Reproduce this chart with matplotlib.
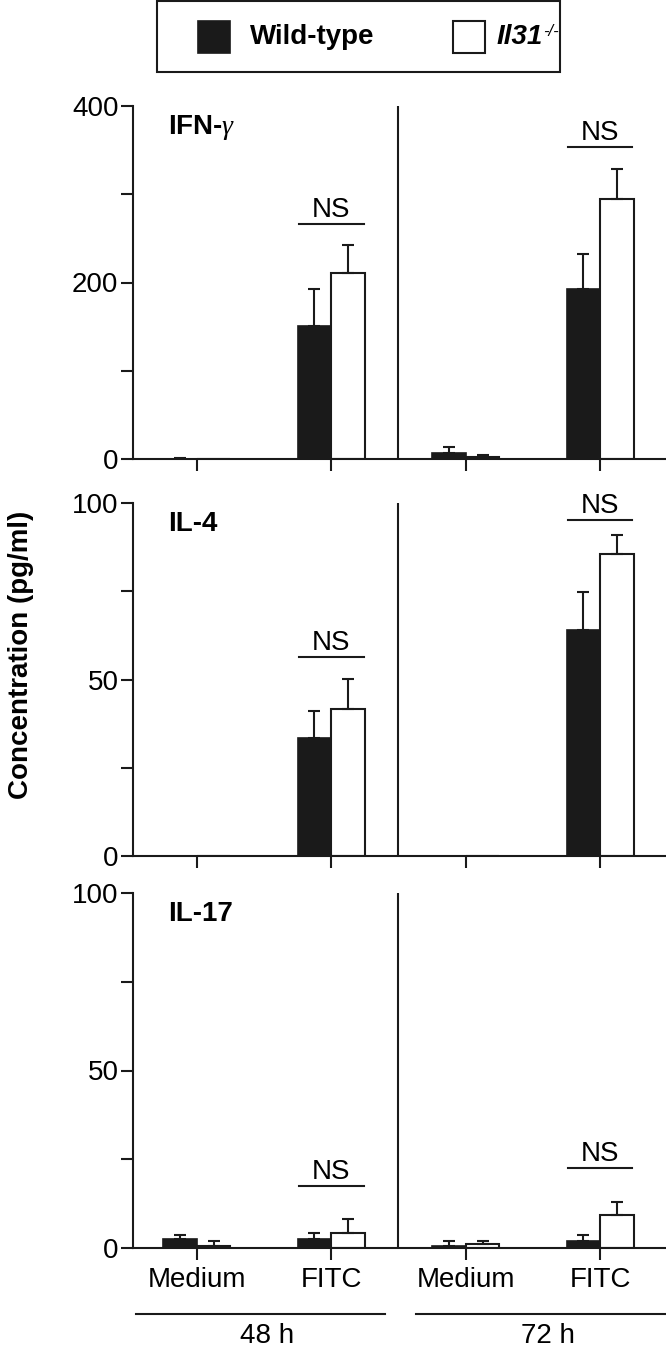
import numpy as np
import matplotlib
matplotlib.use("Agg")
import matplotlib.pyplot as plt
from matplotlib.patches import Rectangle

plt.rcParams["font.family"] = ["Liberation Sans", "DejaVu Sans"]
plt.rcParams["mathtext.fontset"] = "custom"
plt.rcParams["mathtext.it"] = "Liberation Serif:italic"

# categories
conditions = ["Medium", "FITC", "Medium", "FITC"]
times = ["48 h", "72 h"]

# IFN-gamma (pg/ml)
ifng_wt = [0, 150.7, 7.2, 192.6]
ifng_wt_err = [1.5, 42.0, 6.4, 39.5]
ifng_ko = [0, 210.8, 2.6, 294.6]
ifng_ko_err = [0, 31.7, 1.4, 34.0]
ifng_ns = [266, 353.5]

# IL-4
il4_wt = [0, 33.5, 0, 63.9]
il4_wt_err = [0, 7.6, 0, 11.0]
il4_ko = [0, 41.6, 0, 85.5]
il4_ko_err = [0, 8.6, 0, 5.3]
il4_ns = [56.4, 95.1]

# IL-17
il17_wt = [2.4, 2.4, 0.6, 1.9]
il17_wt_err = [1.2, 1.8, 1.3, 1.7]
il17_ko = [0.6, 4.2, 1.2, 9.4]
il17_ko_err = [1.3, 4.0, 0.7, 3.6]
il17_ns = [17.4, 22.6]

panels = [
    (r"IFN-$\gamma$", ifng_wt, ifng_wt_err, ifng_ko, ifng_ko_err, ifng_ns, 400, [0, 100, 200, 300, 400], [0, 200, 400]),
    ("IL-4", il4_wt, il4_wt_err, il4_ko, il4_ko_err, il4_ns, 100, [0, 25, 50, 75, 100], [0, 50, 100]),
    ("IL-17", il17_wt, il17_wt_err, il17_ko, il17_ko_err, il17_ns, 100, [0, 25, 50, 75, 100], [0, 50, 100]),
]

W, H = 666, 1351
fig = plt.figure(figsize=(W / 100, H / 100), dpi=100)

# pixel rows (top, bottom) of each panel
rows = [(106, 459), (503, 856), (893, 1248)]
left_px = 133
dark = "#1a1a1a"
fs = 20
bw = 0.25
x = np.arange(len(conditions))

for i, (name, wt, wte, ko, koe, ns, ymax, yt, ytl) in enumerate(panels):
    top, bot = rows[i]
    ax = fig.add_axes([left_px / W, 1 - bot / H, 1 - left_px / W, (bot - top) / H])
    ax.bar(x - bw / 2, wt, bw, color=dark, edgecolor=dark, linewidth=1.2, zorder=2)
    ax.bar(x + bw / 2, ko, bw, color="white", edgecolor=dark, linewidth=1.5, zorder=2)
    for xs, vals, errs in [(x - bw / 2, wt, wte), (x + bw / 2, ko, koe)]:
        for xx, v, e in zip(xs, vals, errs):
            if e > 0:
                ax.errorbar(xx, v, yerr=[[0], [e]], color=dark, lw=1.5,
                            capsize=4, capthick=1.5, zorder=3)
    # NS brackets over FITC groups
    for xx, yy in zip([1, 3], ns):
        ax.plot([xx - 0.24, xx + 0.24], [yy, yy], color=dark, lw=1.5)
        ax.annotate("NS", (xx, yy), xytext=(0, 5), textcoords="offset points",
                    ha="center", va="baseline", fontsize=fs)
    ax.axvline(1.5, color=dark, lw=1.5)
    ax.set_xlim(-0.475, 3.49)
    ax.set_ylim(0, ymax)
    ax.set_yticks(yt)
    ax.set_yticklabels([str(t) if t in ytl else "" for t in yt])
    ax.set_xticks(x)
    if i == 2:
        ax.set_xticklabels(conditions)
    else:
        ax.set_xticklabels([])
    for s in ["top", "right"]:
        ax.spines[s].set_visible(False)
    for s in ["left", "bottom"]:
        ax.spines[s].set_linewidth(1.5)
        ax.spines[s].set_color(dark)
    ax.tick_params(axis="both", length=8.5, width=1.5, color=dark, labelsize=fs)
    ax.tick_params(axis="y", pad=2)
    ax.tick_params(axis="x", pad=5)
    ax.text(0.066, 0.92, name, transform=ax.transAxes, fontsize=fs,
            fontweight="bold", va="baseline")
    if i == 2:
        trans = ax.get_xaxis_transform()
        for (x0, x1), lab in zip([(-0.45, 1.40), (1.63, 3.49)], times):
            ax.plot([x0, x1], [-0.186, -0.186], transform=trans, color=dark,
                    lw=1.5, clip_on=False)
            ax.text((x0 + x1) / 2 + 0.05, -0.21, lab, transform=trans, ha="center",
                    va="top", fontsize=fs)

fig.text(21 / W, 1 - 655 / H, "Concentration (pg/ml)", rotation=90, ha="center",
         va="center", fontsize=fs, fontweight="bold")

# legend box
fig.patches.append(Rectangle((157 / W, 1 - 72 / H), (560 - 157) / W, 71 / H,
                             transform=fig.transFigure, fill=False,
                             edgecolor=dark, lw=1.5))
fig.patches.append(Rectangle((198 / W, 1 - 53 / H), 32 / W, 32 / H,
                             transform=fig.transFigure, facecolor=dark,
                             edgecolor=dark, lw=1.2))
fig.patches.append(Rectangle((453 / W, 1 - 53 / H), 32 / W, 32 / H,
                             transform=fig.transFigure, facecolor="white",
                             edgecolor=dark, lw=1.5))
fig.text(250 / W, 1 - 37 / H, "Wild-type", fontsize=fs, fontweight="bold",
         va="center")
fig.text(497 / W, 1 - 37 / H, "Il31", fontsize=fs, fontweight="bold",
         fontstyle="italic", va="center")
fig.text(543 / W, 1 - 32 / H, "-/-", fontsize=12, fontstyle="italic",
         va="center")

fig.savefig("out.png", dpi=100)
